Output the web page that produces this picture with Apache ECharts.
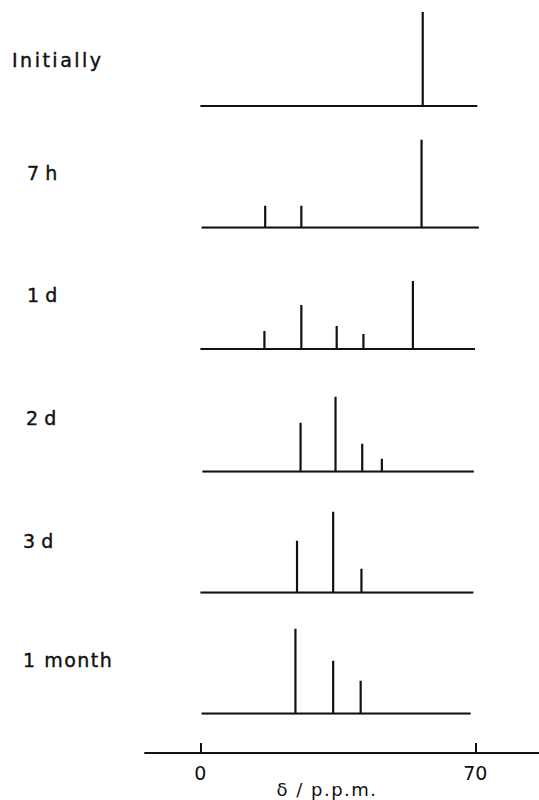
<!DOCTYPE html>
<html>
<head>
<meta charset="utf-8">
<script src="https://cdn.jsdelivr.net/npm/echarts@6/dist/echarts.min.js"></script>
<style>html,body{margin:0;padding:0;background:#fff}#c{width:539px;height:800px}</style>
</head>
<body>
<div id="c"></div>
<script>
// Panel labels (top to bottom)
const panelLabels = ["Initially", "7 h", "1 d", "2 d", "3 d", "1 month"];
// Chemical shifts (ppm) of each line, per panel
const shifts0 = [56.6];
const shifts1 = [16.5, 25.7, 56.3];
const shifts2 = [16.3, 25.7, 34.7, 41.5, 54.1];
const shifts3 = [25.5, 34.4, 41.2, 46.2];
const shifts4 = [24.6, 33.8, 41.0];
const shifts5 = [24.2, 33.8, 40.8];
// Relative intensities of each line, per panel
const heights0 = [94];
const heights1 = [22, 22, 88];
const heights2 = [18, 44, 23, 15, 68];
const heights3 = [49, 75, 28, 13];
const heights4 = [52, 81, 24];
const heights5 = [85, 53, 33];
// Spectrum baseline extent (ppm)
const baseStart = [0, 0.3, 0, 0.5, 0, 0.3];
const baseEnd = [70.5, 70.9, 69.9, 69.6, 69.5, 68.8];
// Bottom axis
const axisTicks = [0, 70];
const axisTitle = "δ / p.p.m.";

const shifts = [shifts0, shifts1, shifts2, shifts3, shifts4, shifts5];
const heights = [heights0, heights1, heights2, heights3, heights4, heights5];

const XMIN = -14.1, XMAX = 86.2;
const baselines = [106, 227.7, 349, 471.7, 592.7, 713.7];
const labelX = [12, 27, 27, 26, 23, 23];
const labelY = [60, 173, 295, 418, 541, 660];
const labelSpacing = [2.5, 0, 0, 0, 0, 1.5];
const ink = '#111';

const grids = [], xAxes = [], yAxes = [], series = [], graphics = [];
for (let i = 0; i < 6; i++) {
  grids.push({ left: 145, width: 394, top: baselines[i] - 100, height: 100 });
  xAxes.push({ gridIndex: i, type: 'value', min: XMIN, max: XMAX, show: false });
  yAxes.push({ gridIndex: i, type: 'value', min: 0, max: 100, show: false });
  const pts = [[baseStart[i], 0]];
  const order = shifts[i].map((x, k) => k).sort((a, b) => shifts[i][a] - shifts[i][b]);
  order.forEach(k => {
    const x = shifts[i][k];
    pts.push([x, 0], [x, heights[i][k]], [x, 0]);
  });
  pts.push([baseEnd[i], 0]);
  series.push({
    type: 'line', xAxisIndex: i, yAxisIndex: i, data: pts,
    showSymbol: false, symbol: 'none', silent: true,
    lineStyle: { color: ink, width: 2.2, join: 'miter', cap: 'butt' }
  });
  graphics.push({
    type: 'text', x: labelX[i], y: labelY[i],
    style: { text: panelLabels[i], fill: ink, stroke: ink, lineWidth: 0.4,
             fontSize: 19, fontFamily: 'DejaVu Sans', textVerticalAlign: 'middle' }
  });
}
// bottom axis grid
grids.push({ left: 145, width: 394, top: 700, bottom: 47 });
xAxes.push({
  gridIndex: 6, type: 'value', min: XMIN, max: XMAX, position: 'bottom',
  splitLine: { show: false },
  axisLine: { show: true, onZero: false, lineStyle: { color: ink, width: 2 } },
  axisTick: { show: true, inside: true, length: 10, customValues: axisTicks, lineStyle: { color: ink, width: 2 } },
  axisLabel: { show: true, margin: 10, customValues: axisTicks, color: ink, fontSize: 19, fontFamily: 'DejaVu Sans' }
});
yAxes.push({ gridIndex: 6, type: 'value', show: false });
graphics.push({
  type: 'text', x: 327, y: 789,
  style: { text: axisTitle, fill: ink, fontSize: 18, fontFamily: 'DejaVu Sans',
           textAlign: 'center', textVerticalAlign: 'middle' }
});

const chart = echarts.init(document.getElementById('c'), null, { renderer: 'svg' });
chart.setOption({
  animation: false,
  backgroundColor: '#fff',
  grid: grids, xAxis: xAxes, yAxis: yAxes, series: series, graphic: graphics
});
// letter tracking as in the original lettering
const spacingByText = {};
panelLabels.forEach((t, i) => { if (labelSpacing[i]) spacingByText[t] = labelSpacing[i]; });
spacingByText[axisTitle] = 1.5;
document.querySelectorAll('#c svg text').forEach(t => {
  const s = spacingByText[t.textContent];
  if (s) t.setAttribute('letter-spacing', s + 'px');
});
</script>
</body>
</html>
